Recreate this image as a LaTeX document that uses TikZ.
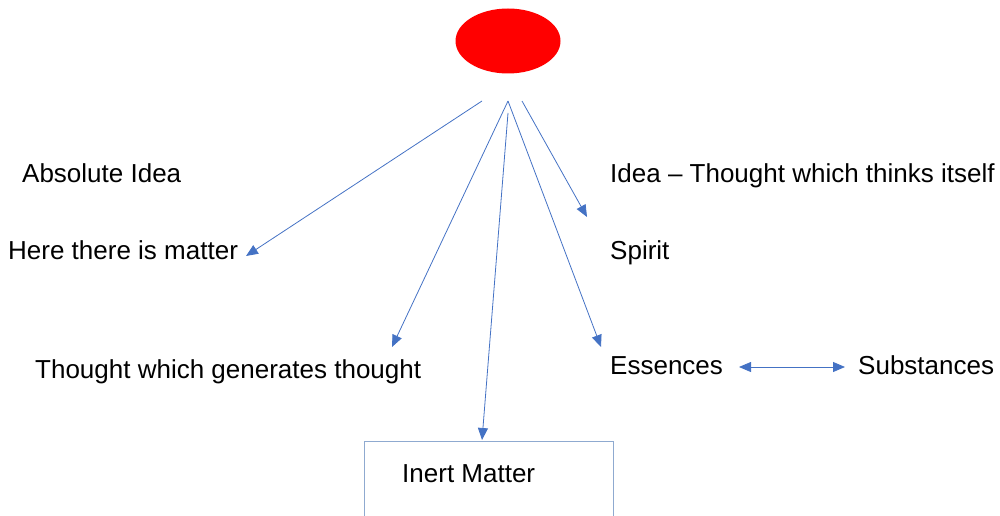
\documentclass[tikz,border=0pt]{standalone}
\usepackage{fontspec}
\setmainfont{Liberation Sans}
\usetikzlibrary{arrows.meta}
\definecolor{arrowblue}{HTML}{4472C4}
\definecolor{boxline}{HTML}{8FAAD0}
\begin{document}
\begin{tikzpicture}[x=1pt,y=-1pt,
  lbl/.style={anchor=base west,inner sep=0pt,font=\fontsize{26}{30}\selectfont},
  conn/.style={draw=arrowblue,line width=0.8pt,-{Triangle[length=12pt,width=10pt]}},
  dconn/.style={draw=arrowblue,line width=0.8pt,{Triangle[length=12pt,width=10pt]}-{Triangle[length=12pt,width=10pt]}}]
\useasboundingbox (0,0) rectangle (1000,516);
\fill[red] (508,41) ellipse [x radius=52.5, y radius=32.5];
% labels
\node[lbl] (absidea) at (22,182) {Absolute Idea};
\node[lbl] (matter) at (8,259) {Here there is matter};
\node[lbl] (tgen) at (35,378) {Thought which generates thought};
\node[lbl] (idea) at (610,182) {Idea – Thought which thinks itself};
\node[lbl] (spirit) at (610,259) {Spirit};
\node[lbl] (ess) at (610,374) {Essences};
\node[lbl] (subst) at (858,374) {Substances};
\node[lbl] (inert) at (402,482) {Inert Matter};
% box around Inert Matter (open at bottom)
\coordinate (bl) at (364,517);
\coordinate (tl) at (364,441);
\coordinate (tr) at (613,441);
\coordinate (br) at (613,517);
\draw[boxline,line width=0.8pt] (bl) -- (tl) -- (tr) -- (br);
% arrow start points
\coordinate (s1) at (482,101);
\coordinate (s2) at (508,101);
\coordinate (s4) at (508,113);
\coordinate (s5) at (522,101);
% arrow ends
\coordinate (e1) at (246,256);
\coordinate (e2) at (392,347);
\coordinate (e3) at (601,347);
\coordinate (e4) at (482,440);
\coordinate (e5) at (587,217);
\coordinate (d1) at (739,367);
\coordinate (d2) at (845,367);
\draw[conn] (s1) -- (e1);
\draw[conn] (s2) -- (e2);
\draw[conn] (s2) -- (e3);
\draw[conn] (s4) -- (e4);
\draw[conn] (s5) -- (e5);
\draw[dconn] (d1) -- (d2);
\end{tikzpicture}
\end{document}
